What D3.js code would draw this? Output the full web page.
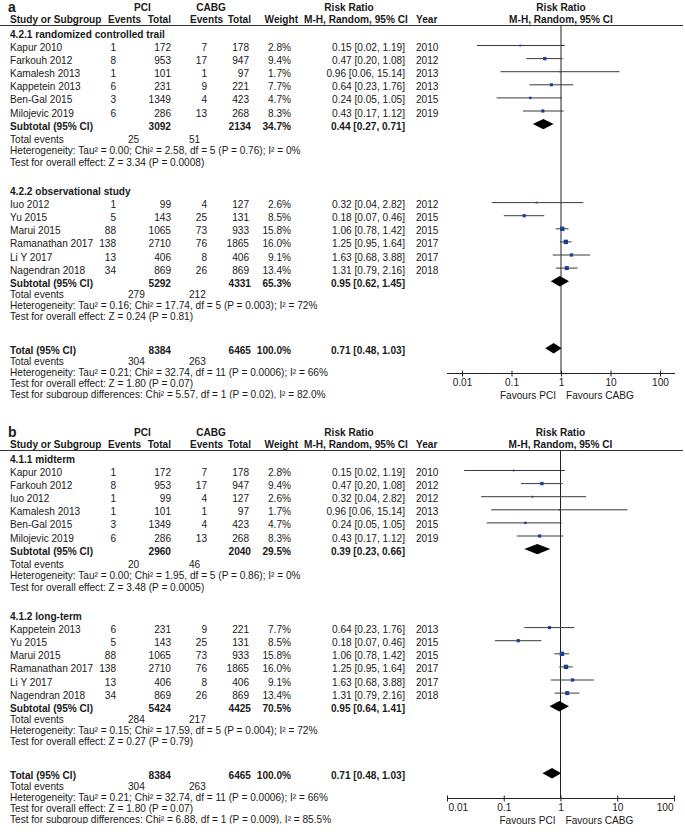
<!DOCTYPE html>
<html><head><meta charset="utf-8">
<script src="https://cdn.jsdelivr.net/npm/d3@7"></script>
<style>
html,body{margin:0;padding:0;background:#fff;}
svg text{font-family:"Liberation Sans",Arial,Helvetica,sans-serif;font-size:10.1px;fill:#1a1a1a;}
</style></head><body>
<svg id="c" width="685" height="832"></svg>
<script>
// ---------------- DATA ----------------
const studies    = ["Kapur 2010","Farkouh 2012","Kamalesh 2013","Kappetein 2013","Ben-Gal 2015","Milojevic 2019","Iuo 2012","Yu 2015","Marui 2015","Ramanathan 2017","Li Y 2017","Nagendran 2018"];
const pciEvents  = [1, 8, 1, 6, 3, 6, 1, 5, 88, 138, 13, 34];
const pciTotal   = [172, 953, 101, 231, 1349, 286, 99, 143, 1065, 2710, 406, 869];
const cabgEvents = [7, 17, 1, 9, 4, 13, 4, 25, 73, 76, 8, 26];
const cabgTotal  = [178, 947, 97, 221, 423, 268, 127, 131, 933, 1865, 406, 869];
const weights    = [2.8, 9.4, 1.7, 7.7, 4.7, 8.3, 2.6, 8.5, 15.8, 16.0, 9.1, 13.4];
const rr         = [0.15, 0.47, 0.96, 0.64, 0.24, 0.43, 0.32, 0.18, 1.06, 1.25, 1.63, 1.31];
const rrLow      = [0.02, 0.20, 0.06, 0.23, 0.05, 0.17, 0.04, 0.07, 0.78, 0.95, 0.68, 0.79];
const rrHigh     = [1.19, 1.08, 15.14, 1.76, 1.05, 1.12, 2.82, 0.46, 1.42, 1.64, 3.88, 2.16];
const years      = [2010, 2012, 2013, 2013, 2015, 2019, 2012, 2015, 2015, 2017, 2017, 2018];

const panelLabels  = ["a", "b"];
const groupTitles  = [["4.2.1 randomized controlled trail", "4.2.2 observational study"], ["4.1.1 midterm", "4.1.2 long-term"]];
const groupMembers = [[[0,1,2,3,4,5],[6,7,8,9,10,11]], [[0,1,6,2,4,5],[3,7,8,9,10,11]]];

const subPciTotal   = [[3092, 5292], [2960, 5424]];
const subCabgTotal  = [[2134, 4331], [2040, 4425]];
const subWeight     = [[34.7, 65.3], [29.5, 70.5]];
const subRR         = [[0.44, 0.95], [0.39, 0.95]];
const subLow        = [[0.27, 0.62], [0.23, 0.64]];
const subHigh       = [[0.71, 1.45], [0.66, 1.41]];
const subPciEvents  = [[25, 279], [20, 284]];
const subCabgEvents = [[51, 212], [46, 217]];
const subHet = [["Tau² = 0.00; Chi² = 2.58, df = 5 (P = 0.76); I² = 0%", "Tau² = 0.16; Chi² = 17.74, df = 5 (P = 0.003); I² = 72%"],
                ["Tau² = 0.00; Chi² = 1.95, df = 5 (P = 0.86); I² = 0%", "Tau² = 0.15; Chi² = 17.59, df = 5 (P = 0.004); I² = 72%"]];
const subZ   = [["Z = 3.34 (P = 0.0008)", "Z = 0.24 (P = 0.81)"], ["Z = 3.48 (P = 0.0005)", "Z = 0.27 (P = 0.79)"]];

const totPciTotal   = [8384, 8384];
const totCabgTotal  = [6465, 6465];
const totWeight     = [100.0, 100.0];
const totRR         = [0.71, 0.71];
const totLow        = [0.48, 0.48];
const totHigh       = [1.03, 1.03];
const totPciEvents  = [304, 304];
const totCabgEvents = [263, 263];
const totHet = ["Tau² = 0.21; Chi² = 32.74, df = 11 (P = 0.0006); I² = 66%", "Tau² = 0.21; Chi² = 32.74, df = 11 (P = 0.0006); I² = 66%"];
const totZ   = ["Z = 1.80 (P = 0.07)", "Z = 1.80 (P = 0.07)"];
const subgroupDiff = ["Chi² = 5.57, df = 1 (P = 0.02), I² = 82.0%", "Chi² = 6.88, df = 1 (P = 0.009), I² = 85.5%"];

const tickValues = [0.01, 0.1, 1, 10, 100];
const tickLabels = ["0.01", "0.1", "1", "10", "100"];

// ---------------- LAYOUT ----------------
const panelTop   = [0, 425];
const plotRange  = [[462, 660], [447, 674]];
const axisExtent = [[447, 675], [447, 675]];
const lineY = 25.5, axisY = 373.5;
const col = {name:10, pciEv:116, pciTot:171, cabgEv:207, cabgTot:249, weight:291, ci:405, year:416, totEvPci:128, totEvCabg:189};
const BLUE = "#1d3e96", INK = "#1a1a1a";

const fmtCI = (e, l, h) => `${e.toFixed(2)} [${l.toFixed(2)}, ${h.toFixed(2)}]`;
const fmtW = w => w.toFixed(1) + "%";

const svg = d3.select("#c");
const defs = svg.append("defs");

panelLabels.forEach((lab, pi) => {
  const g = svg.append("g").attr("transform", `translate(0,${panelTop[pi]})`);
  const x = d3.scaleLog().domain([0.01, 100]).range(plotRange[pi]);

  // rows
  const rows = [];
  groupMembers[pi].forEach((members, gi) => {
    rows.push({type: "heading", text: groupTitles[pi][gi], gap: gi === 0 ? 7 : 29.5});
    members.forEach((si, k) => rows.push({type: "study", i: si, gap: k === 0 ? 13 : 13.1}));
    rows.push({type: "sub", gi, gap: 13.1});
    rows.push({type: "events", pci: subPciEvents[pi][gi], cabg: subCabgEvents[pi][gi], gap: gi === 0 ? 13.6 : 11.2});
    rows.push({type: "text", text: "Heterogeneity: " + subHet[pi][gi], gap: 11.2});
    rows.push({type: "text", text: "Test for overall effect: " + subZ[pi][gi], gap: 11.2});
  });
  rows.push({type: "total", gap: 33.4});
  rows.push({type: "events", pci: totPciEvents[pi], cabg: totCabgEvents[pi], gap: 10.8});
  rows.push({type: "text", text: "Heterogeneity: " + totHet[pi], gap: 11.2});
  rows.push({type: "text", text: "Test for overall effect: " + totZ[pi], gap: 11.2});
  rows.push({type: "text", text: "Test for subgroup differences: " + subgroupDiff[pi], gap: 11.5, clip: true});
  let yy = lineY;
  rows.forEach(r => { yy += r.gap; r.y = yy; });

  // header
  g.append("text").attr("x", 8).attr("y", 12).style("font-size", "14px").style("font-weight", "bold").text(lab);
  const h1 = [["PCI", 142.5, "middle"], ["CABG", 211, "middle"], ["Risk Ratio", 349, "middle"], ["Risk Ratio", x(1), "middle"]];
  const h2 = [["Study or Subgroup", 10, "start"], ["Events", 108, "start"], ["Total", 171, "end"], ["Events", 190, "start"],
              ["Total", 251, "end"], ["Weight", 298, "end"], ["M-H, Random, 95% CI", 304, "start"], ["Year", 416, "start"],
              ["M-H, Random, 95% CI", x(1), "middle"]];
  g.selectAll(".h1").data(h1).join("text").attr("x", d => d[1]).attr("y", 10.5).attr("text-anchor", d => d[2])
    .style("font-weight", "bold").text(d => d[0]);
  g.selectAll(".h2").data(h2).join("text").attr("x", d => d[1]).attr("y", 22.8).attr("text-anchor", d => d[2])
    .style("font-weight", "bold").text(d => d[0]);
  g.append("line").attr("x1", 0).attr("x2", 683).attr("y1", lineY).attr("y2", lineY).attr("stroke", "#333").attr("stroke-width", 1);

  // plot: vertical line of no effect
  g.append("line").attr("x1", x(1)).attr("x2", x(1)).attr("y1", lineY).attr("y2", axisY).attr("stroke", "#222").attr("stroke-width", 1);

  // axis
  const ax = g.append("g").attr("transform", `translate(0,${axisY})`);
  ax.append("line").attr("x1", axisExtent[pi][0]).attr("x2", axisExtent[pi][1]).attr("stroke", "#222");
  const axis = d3.axisBottom(x).tickValues(tickValues).tickFormat((d, i) => tickLabels[i]).tickSize(3).tickSizeOuter(0);
  const axG = ax.append("g").call(axis);
  axG.select(".domain").remove();
  axG.attr("font-family", null).attr("font-size", null);
  axG.selectAll(".tick line").attr("y1", -3).attr("y2", 3).attr("stroke", "#222");
  axG.selectAll(".tick text").attr("y", 12.8).attr("dy", null).attr("fill", INK)
    .attr("text-anchor", d => x(d) <= axisExtent[pi][0] + 1 ? "start" : (x(d) >= axisExtent[pi][1] - 2 ? "end" : "middle"))
    .attr("dx", d => x(d) <= axisExtent[pi][0] + 1 ? 1 : (x(d) >= axisExtent[pi][1] - 2 ? -1 : 0));
  ax.append("text").attr("x", x(1) - 5).attr("y", 25.3).attr("text-anchor", "end").text("Favours PCI");
  ax.append("text").attr("x", x(1) + 5).attr("y", 25.3).attr("text-anchor", "start").text("Favours CABG");

  // clip for the cut-off last line
  const clipId = "clip" + pi;
  const lastRow = rows[rows.length - 1];
  defs.append("clipPath").attr("id", clipId).append("rect")
    .attr("x", 0).attr("width", 685).attr("y", panelTop[pi] + lastRow.y - 10).attr("height", 15.9);

  const T = (r, xx, txt, anchor, bold) => {
    const t = g.append("text").attr("x", xx).attr("y", r.y + 5.5).attr("text-anchor", anchor || "start").text(txt);
    if (bold) t.style("font-weight", "bold");
    return t;
  };

  rows.forEach(r => {
    if (r.type === "heading") {
      T(r, col.name, r.text, "start", true);
    } else if (r.type === "study") {
      const i = r.i;
      T(r, col.name, studies[i]);
      T(r, col.pciEv, pciEvents[i], "end");
      T(r, col.pciTot, pciTotal[i], "end");
      T(r, col.cabgEv, cabgEvents[i], "end");
      T(r, col.cabgTot, cabgTotal[i], "end");
      T(r, col.weight, fmtW(weights[i]), "end");
      T(r, col.ci, fmtCI(rr[i], rrLow[i], rrHigh[i]), "end");
      T(r, col.year, years[i]);
      g.append("line").attr("x1", x(rrLow[i])).attr("x2", x(rrHigh[i])).attr("y1", r.y).attr("y2", r.y)
        .attr("stroke", "#3a3a3a").attr("stroke-width", 1);
      const s = Math.max(1.5, 1.1 * Math.sqrt(weights[i]));
      g.append("rect").attr("x", x(rr[i]) - s / 2).attr("y", r.y - s / 2).attr("width", s).attr("height", s).attr("fill", BLUE);
    } else if (r.type === "sub" || r.type === "total") {
      const isSub = r.type === "sub";
      const gi = r.gi;
      const est = isSub ? subRR[pi][gi] : totRR[pi], lo = isSub ? subLow[pi][gi] : totLow[pi], hi = isSub ? subHigh[pi][gi] : totHigh[pi];
      T(r, col.name, isSub ? "Subtotal (95% CI)" : "Total (95% CI)", "start", true);
      T(r, col.pciTot, isSub ? subPciTotal[pi][gi] : totPciTotal[pi], "end", true);
      T(r, col.cabgTot + 2, isSub ? subCabgTotal[pi][gi] : totCabgTotal[pi], "end", true);
      T(r, col.weight, fmtW(isSub ? subWeight[pi][gi] : totWeight[pi]), "end", true);
      T(r, col.ci, fmtCI(est, lo, hi), "end", true);
      const hh = 5.2;
      g.append("path").attr("d", `M${x(lo)},${r.y}L${x(est)},${r.y - hh}L${x(hi)},${r.y}L${x(est)},${r.y + hh}Z`).attr("fill", "#000");
    } else if (r.type === "events") {
      T(r, col.name, "Total events");
      T(r, col.totEvPci, r.pci);
      T(r, col.totEvCabg, r.cabg);
    } else if (r.type === "text") {
      const t = T(r, col.name, r.text);
      if (r.clip) t.attr("clip-path", `url(#${clipId})`).attr("transform", `translate(0,${-panelTop[pi]})`).attr("y", panelTop[pi] + r.y + 5.5);
    }
  });
});
</script>
</body></html>
